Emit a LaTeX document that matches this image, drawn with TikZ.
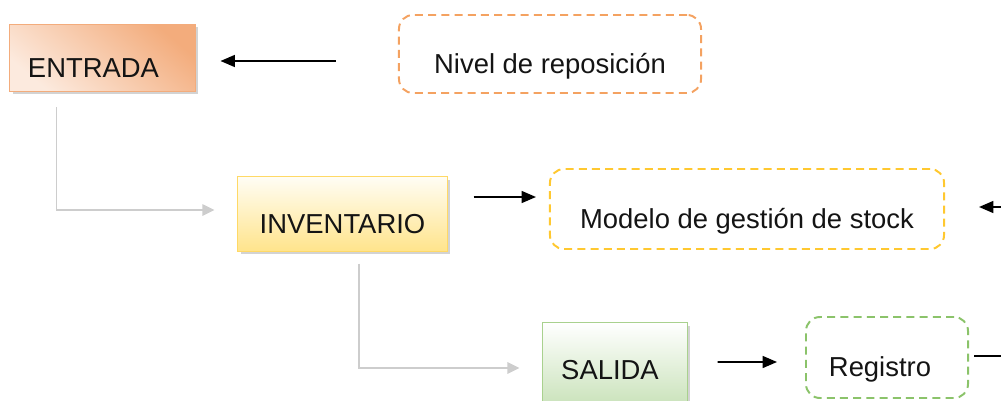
\documentclass[tikz,border=0pt]{standalone}
\usepackage{fontspec}
\setmainfont{Liberation Sans}
\usetikzlibrary{shadows,arrows.meta,calc}
\definecolor{entradaD}{RGB}{243,172,124}
\definecolor{entradaL}{RGB}{252,234,222}
\definecolor{invD}{RGB}{255,228,140}
\definecolor{invL}{RGB}{255,253,244}
\definecolor{invB}{RGB}{255,217,102}
\definecolor{salD}{RGB}{197,224,180}
\definecolor{salB}{RGB}{169,209,142}
\definecolor{dashO}{RGB}{244,162,97}
\definecolor{dashY}{RGB}{255,200,48}
\definecolor{dashG}{RGB}{139,195,106}
\definecolor{flowgray}{RGB}{205,205,205}
\tikzset{
  txt/.style={font=\fontsize{19.5}{23}\selectfont, text=black!92, inner sep=0pt,
    text height=0.95cm, text depth=0pt},
  procbox/.style={txt, rectangle, line width=0.7pt,
    drop shadow={shadow xshift=0.07cm, shadow yshift=-0.07cm, opacity=0.35}},
  notebox/.style={txt, rectangle, rounded corners=0.35cm, line width=1.4pt,
    dash pattern=on 0.2cm off 0.13cm},
  arr/.style={-{Triangle[length=0.36cm,width=0.3cm]}, line width=1.1pt, black},
  flow/.style={-{Triangle[length=0.3cm,width=0.28cm]}, line width=1.4pt, flowgray}
}
\begin{document}
\begin{tikzpicture}[x=0.025cm, y=-0.025cm]
                    \clip (0,0) rectangle (1001,401);
                    % process boxes
                    \node[procbox, draw=entradaD, top color=entradaD, bottom color=entradaL,
                      shading angle=-40, minimum width=4.625cm, minimum height=1.675cm]
                      (entrada) at (102.5,58) {\hspace{-0.45cm}ENTRADA};
                    \node[procbox, draw=invB, top color=invL, bottom color=invD,
                      minimum width=5.225cm, minimum height=1.85cm]
                      (inventario) at (342.5,214) {INVENTARIO};
                    \node[procbox, draw=salB, top color=white, bottom color=salD,
                      minimum width=3.6cm, minimum height=2.25cm, text height=0.55cm]
                      (salida) at (615,368) {\hspace{-0.25cm}SALIDA};
                    % dashed notes
                    \node[notebox, draw=dashO, minimum width=7.55cm, minimum height=1.95cm]
                      (nivel) at (550,54) {Nivel de reposición};
                    \node[notebox, draw=dashY, minimum width=9.85cm, minimum height=2cm]
                      (modelo) at (747,209) {Modelo de gestión de stock};
                    \node[notebox, draw=dashG, minimum width=4.05cm, minimum height=2.025cm]
                      (registro) at (887,357.5) {\hspace{-0.35cm}Registro};
                    \coordinate (edgeA) at (1001,207);
                    \coordinate (edgeB) at (1001,356);
                    % black arrows
                    \draw[arr] ($(nivel.west)+(-62,7)$) -- ($(entrada.east)+(25,3)$);
                    \draw[arr] ($(inventario.east)+(26,-17)$) -- ($(modelo.west)+(-13,-12)$);
                    \draw[arr] (edgeA) -- ($(modelo.east)+(34,-2)$);
                    \draw[arr] ($(salida.east)+(30,-6)$) -- ($(registro.west)+(-28,4.5)$);
                    \draw[line width=1.1pt] ($(registro.east)+(5,-1.5)$) -- (edgeB);
                    % gray flow
                    \draw[flow] ($(entrada.south west)+(47,15)$) |- ($(inventario.west)+(-23,-4)$);
                    \draw[flow] ($(inventario.south west)+(122,12)$) |- ($(salida.west)+(-23,0)$);
                \end{tikzpicture}
\end{document}
